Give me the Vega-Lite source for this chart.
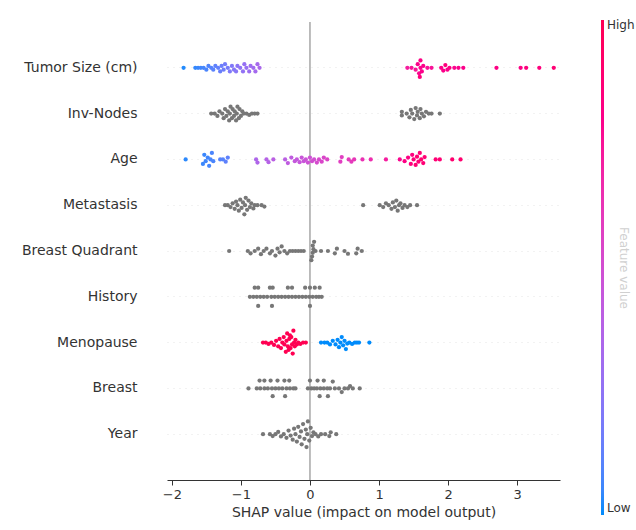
{
  "$schema": "https://vega.github.io/schema/vega-lite/v6.json",
  "width": 393,
  "height": 458,
  "autosize": "none",
  "padding": {"left": 167, "top": 22, "right": 76, "bottom": 50},
  "config": {"view": {"stroke": null}, "font": "DejaVu Sans"},
  "datasets": {
    "pts": [
      {"feature": "Tumor Size (cm)", "shap": -1.83, "jitter": 0, "value": 0.02},
      {"feature": "Tumor Size (cm)", "shap": -1.66, "jitter": 0, "value": 0.04},
      {"feature": "Tumor Size (cm)", "shap": -1.62, "jitter": 0, "value": 0.05},
      {"feature": "Tumor Size (cm)", "shap": -1.58, "jitter": 0, "value": 0.06},
      {"feature": "Tumor Size (cm)", "shap": -1.54, "jitter": 0, "value": 0.07},
      {"feature": "Tumor Size (cm)", "shap": -1.5, "jitter": 0.04, "value": 0.08},
      {"feature": "Tumor Size (cm)", "shap": -1.47, "jitter": -0.04, "value": 0.09},
      {"feature": "Tumor Size (cm)", "shap": -1.43, "jitter": 0, "value": 0.1},
      {"feature": "Tumor Size (cm)", "shap": -1.4, "jitter": 0.04, "value": 0.11},
      {"feature": "Tumor Size (cm)", "shap": -1.37, "jitter": -0.04, "value": 0.12},
      {"feature": "Tumor Size (cm)", "shap": -1.33, "jitter": 0, "value": 0.13},
      {"feature": "Tumor Size (cm)", "shap": -1.3, "jitter": 0.08, "value": 0.14},
      {"feature": "Tumor Size (cm)", "shap": -1.28, "jitter": -0.04, "value": 0.15},
      {"feature": "Tumor Size (cm)", "shap": -1.25, "jitter": 0.04, "value": 0.16},
      {"feature": "Tumor Size (cm)", "shap": -1.23, "jitter": -0.08, "value": 0.17},
      {"feature": "Tumor Size (cm)", "shap": -1.19, "jitter": 0, "value": 0.18},
      {"feature": "Tumor Size (cm)", "shap": -1.16, "jitter": 0.08, "value": 0.2},
      {"feature": "Tumor Size (cm)", "shap": -1.13, "jitter": -0.04, "value": 0.21},
      {"feature": "Tumor Size (cm)", "shap": -1.1, "jitter": 0.04, "value": 0.22},
      {"feature": "Tumor Size (cm)", "shap": -1.07, "jitter": 0.08, "value": 0.23},
      {"feature": "Tumor Size (cm)", "shap": -1.05, "jitter": -0.04, "value": 0.24},
      {"feature": "Tumor Size (cm)", "shap": -1.01, "jitter": 0, "value": 0.25},
      {"feature": "Tumor Size (cm)", "shap": -0.97, "jitter": 0.08, "value": 0.26},
      {"feature": "Tumor Size (cm)", "shap": -0.95, "jitter": -0.08, "value": 0.27},
      {"feature": "Tumor Size (cm)", "shap": -0.92, "jitter": 0, "value": 0.28},
      {"feature": "Tumor Size (cm)", "shap": -0.88, "jitter": 0.08, "value": 0.29},
      {"feature": "Tumor Size (cm)", "shap": -0.86, "jitter": -0.04, "value": 0.3},
      {"feature": "Tumor Size (cm)", "shap": -0.82, "jitter": 0, "value": 0.31},
      {"feature": "Tumor Size (cm)", "shap": -0.79, "jitter": 0.08, "value": 0.32},
      {"feature": "Tumor Size (cm)", "shap": -0.76, "jitter": -0.08, "value": 0.33},
      {"feature": "Tumor Size (cm)", "shap": -0.73, "jitter": 0, "value": 0.34},
      {"feature": "Tumor Size (cm)", "shap": 1.41, "jitter": 0, "value": 0.72},
      {"feature": "Tumor Size (cm)", "shap": 1.47, "jitter": 0, "value": 0.75},
      {"feature": "Tumor Size (cm)", "shap": 1.53, "jitter": 0.04, "value": 0.75},
      {"feature": "Tumor Size (cm)", "shap": 1.56, "jitter": -0.08, "value": 0.8},
      {"feature": "Tumor Size (cm)", "shap": 1.58, "jitter": 0.12, "value": 0.78},
      {"feature": "Tumor Size (cm)", "shap": 1.59, "jitter": 0.2, "value": 0.85},
      {"feature": "Tumor Size (cm)", "shap": 1.6, "jitter": -0.16, "value": 0.82},
      {"feature": "Tumor Size (cm)", "shap": 1.6, "jitter": 0, "value": 0.78},
      {"feature": "Tumor Size (cm)", "shap": 1.62, "jitter": 0.08, "value": 0.8},
      {"feature": "Tumor Size (cm)", "shap": 1.64, "jitter": -0.04, "value": 0.8},
      {"feature": "Tumor Size (cm)", "shap": 1.7, "jitter": 0, "value": 0.75},
      {"feature": "Tumor Size (cm)", "shap": 1.76, "jitter": 0, "value": 0.75},
      {"feature": "Tumor Size (cm)", "shap": 1.9, "jitter": 0, "value": 0.8},
      {"feature": "Tumor Size (cm)", "shap": 1.93, "jitter": 0.06, "value": 0.8},
      {"feature": "Tumor Size (cm)", "shap": 1.96, "jitter": -0.06, "value": 0.85},
      {"feature": "Tumor Size (cm)", "shap": 1.99, "jitter": 0.04, "value": 0.8},
      {"feature": "Tumor Size (cm)", "shap": 2.02, "jitter": 0, "value": 0.82},
      {"feature": "Tumor Size (cm)", "shap": 2.09, "jitter": 0, "value": 0.78},
      {"feature": "Tumor Size (cm)", "shap": 2.15, "jitter": 0, "value": 0.8},
      {"feature": "Tumor Size (cm)", "shap": 2.22, "jitter": 0, "value": 0.8},
      {"feature": "Tumor Size (cm)", "shap": 2.7, "jitter": 0, "value": 0.82},
      {"feature": "Tumor Size (cm)", "shap": 3.05, "jitter": 0, "value": 0.82},
      {"feature": "Tumor Size (cm)", "shap": 3.13, "jitter": 0, "value": 0.85},
      {"feature": "Tumor Size (cm)", "shap": 3.32, "jitter": 0, "value": 0.85},
      {"feature": "Tumor Size (cm)", "shap": 3.53, "jitter": 0, "value": 0.88},

      {"feature": "Inv-Nodes", "shap": -1.43, "jitter": 0, "value": null},
      {"feature": "Inv-Nodes", "shap": -1.38, "jitter": 0, "value": null},
      {"feature": "Inv-Nodes", "shap": -1.34, "jitter": 0.05, "value": null},
      {"feature": "Inv-Nodes", "shap": -1.31, "jitter": -0.05, "value": null},
      {"feature": "Inv-Nodes", "shap": -1.27, "jitter": 0, "value": null},
      {"feature": "Inv-Nodes", "shap": -1.25, "jitter": 0.1, "value": null},
      {"feature": "Inv-Nodes", "shap": -1.23, "jitter": -0.1, "value": null},
      {"feature": "Inv-Nodes", "shap": -1.21, "jitter": 0.05, "value": null},
      {"feature": "Inv-Nodes", "shap": -1.19, "jitter": -0.05, "value": null},
      {"feature": "Inv-Nodes", "shap": -1.17, "jitter": 0.15, "value": null},
      {"feature": "Inv-Nodes", "shap": -1.16, "jitter": 0, "value": null},
      {"feature": "Inv-Nodes", "shap": -1.15, "jitter": -0.15, "value": null},
      {"feature": "Inv-Nodes", "shap": -1.13, "jitter": 0.1, "value": null},
      {"feature": "Inv-Nodes", "shap": -1.12, "jitter": -0.1, "value": null},
      {"feature": "Inv-Nodes", "shap": -1.1, "jitter": 0.05, "value": null},
      {"feature": "Inv-Nodes", "shap": -1.09, "jitter": -0.05, "value": null},
      {"feature": "Inv-Nodes", "shap": -1.07, "jitter": 0.15, "value": null},
      {"feature": "Inv-Nodes", "shap": -1.06, "jitter": 0, "value": null},
      {"feature": "Inv-Nodes", "shap": -1.05, "jitter": -0.15, "value": null},
      {"feature": "Inv-Nodes", "shap": -1.03, "jitter": 0.1, "value": null},
      {"feature": "Inv-Nodes", "shap": -1.02, "jitter": -0.1, "value": null},
      {"feature": "Inv-Nodes", "shap": -1.0, "jitter": 0.05, "value": null},
      {"feature": "Inv-Nodes", "shap": -0.98, "jitter": -0.05, "value": null},
      {"feature": "Inv-Nodes", "shap": -0.96, "jitter": 0, "value": null},
      {"feature": "Inv-Nodes", "shap": -0.92, "jitter": 0, "value": null},
      {"feature": "Inv-Nodes", "shap": -0.88, "jitter": 0.03, "value": null},
      {"feature": "Inv-Nodes", "shap": -0.84, "jitter": 0, "value": null},
      {"feature": "Inv-Nodes", "shap": -0.8, "jitter": 0, "value": null},
      {"feature": "Inv-Nodes", "shap": -0.76, "jitter": 0, "value": null},
      {"feature": "Inv-Nodes", "shap": 1.33, "jitter": 0.04, "value": null},
      {"feature": "Inv-Nodes", "shap": 1.33, "jitter": -0.04, "value": null},
      {"feature": "Inv-Nodes", "shap": 1.4, "jitter": 0, "value": null},
      {"feature": "Inv-Nodes", "shap": 1.44, "jitter": 0.08, "value": null},
      {"feature": "Inv-Nodes", "shap": 1.46, "jitter": -0.08, "value": null},
      {"feature": "Inv-Nodes", "shap": 1.48, "jitter": 0, "value": null},
      {"feature": "Inv-Nodes", "shap": 1.51, "jitter": 0.12, "value": null},
      {"feature": "Inv-Nodes", "shap": 1.53, "jitter": -0.12, "value": null},
      {"feature": "Inv-Nodes", "shap": 1.55, "jitter": 0.04, "value": null},
      {"feature": "Inv-Nodes", "shap": 1.56, "jitter": -0.04, "value": null},
      {"feature": "Inv-Nodes", "shap": 1.59, "jitter": 0.1, "value": null},
      {"feature": "Inv-Nodes", "shap": 1.6, "jitter": -0.1, "value": null},
      {"feature": "Inv-Nodes", "shap": 1.62, "jitter": 0, "value": null},
      {"feature": "Inv-Nodes", "shap": 1.65, "jitter": 0.06, "value": null},
      {"feature": "Inv-Nodes", "shap": 1.68, "jitter": -0.04, "value": null},
      {"feature": "Inv-Nodes", "shap": 1.72, "jitter": 0, "value": null},
      {"feature": "Inv-Nodes", "shap": 1.76, "jitter": 0, "value": null},
      {"feature": "Inv-Nodes", "shap": 1.88, "jitter": 0, "value": null},

      {"feature": "Age", "shap": -1.8, "jitter": 0, "value": 0.03},
      {"feature": "Age", "shap": -1.55, "jitter": 0.1, "value": 0.05},
      {"feature": "Age", "shap": -1.53, "jitter": -0.1, "value": 0.05},
      {"feature": "Age", "shap": -1.51, "jitter": 0.04, "value": 0.06},
      {"feature": "Age", "shap": -1.48, "jitter": -0.04, "value": 0.06},
      {"feature": "Age", "shap": -1.46, "jitter": 0.14, "value": 0.07},
      {"feature": "Age", "shap": -1.44, "jitter": 0, "value": 0.07},
      {"feature": "Age", "shap": -1.42, "jitter": -0.14, "value": 0.08},
      {"feature": "Age", "shap": -1.4, "jitter": 0.04, "value": 0.08},
      {"feature": "Age", "shap": -1.3, "jitter": 0, "value": 0.1},
      {"feature": "Age", "shap": -1.26, "jitter": 0, "value": 0.1},
      {"feature": "Age", "shap": -1.22, "jitter": 0.05, "value": 0.12},
      {"feature": "Age", "shap": -1.19, "jitter": -0.04, "value": 0.12},
      {"feature": "Age", "shap": -0.78, "jitter": 0, "value": 0.35},
      {"feature": "Age", "shap": -0.76, "jitter": 0.07, "value": 0.36},
      {"feature": "Age", "shap": -0.63, "jitter": 0, "value": 0.38},
      {"feature": "Age", "shap": -0.6, "jitter": 0.06, "value": 0.38},
      {"feature": "Age", "shap": -0.53, "jitter": 0, "value": 0.4},
      {"feature": "Age", "shap": -0.36, "jitter": 0, "value": 0.4},
      {"feature": "Age", "shap": -0.32, "jitter": 0.08, "value": 0.42},
      {"feature": "Age", "shap": -0.27, "jitter": -0.04, "value": 0.42},
      {"feature": "Age", "shap": -0.22, "jitter": 0.04, "value": 0.44},
      {"feature": "Age", "shap": -0.19, "jitter": 0, "value": 0.44},
      {"feature": "Age", "shap": -0.15, "jitter": 0.06, "value": 0.45},
      {"feature": "Age", "shap": -0.12, "jitter": -0.04, "value": 0.46},
      {"feature": "Age", "shap": -0.09, "jitter": 0.04, "value": 0.46},
      {"feature": "Age", "shap": -0.06, "jitter": 0, "value": 0.47},
      {"feature": "Age", "shap": -0.03, "jitter": 0.07, "value": 0.48},
      {"feature": "Age", "shap": 0.0, "jitter": -0.04, "value": 0.48},
      {"feature": "Age", "shap": 0.03, "jitter": 0.04, "value": 0.5},
      {"feature": "Age", "shap": 0.06, "jitter": 0, "value": 0.5},
      {"feature": "Age", "shap": 0.1, "jitter": 0.07, "value": 0.52},
      {"feature": "Age", "shap": 0.13, "jitter": 0, "value": 0.52},
      {"feature": "Age", "shap": 0.17, "jitter": 0.05, "value": 0.54},
      {"feature": "Age", "shap": 0.2, "jitter": -0.04, "value": 0.54},
      {"feature": "Age", "shap": 0.25, "jitter": 0, "value": 0.55},
      {"feature": "Age", "shap": 0.44, "jitter": 0.05, "value": 0.58},
      {"feature": "Age", "shap": 0.46, "jitter": -0.05, "value": 0.58},
      {"feature": "Age", "shap": 0.56, "jitter": 0, "value": 0.6},
      {"feature": "Age", "shap": 0.6, "jitter": 0.05, "value": 0.6},
      {"feature": "Age", "shap": 0.64, "jitter": 0, "value": 0.62},
      {"feature": "Age", "shap": 0.76, "jitter": 0, "value": 0.64},
      {"feature": "Age", "shap": 0.88, "jitter": 0, "value": 0.66},
      {"feature": "Age", "shap": 1.1, "jitter": 0, "value": 0.72},
      {"feature": "Age", "shap": 1.3, "jitter": 0, "value": 0.78},
      {"feature": "Age", "shap": 1.37, "jitter": 0.04, "value": 0.82},
      {"feature": "Age", "shap": 1.42, "jitter": -0.04, "value": 0.82},
      {"feature": "Age", "shap": 1.46, "jitter": 0.1, "value": 0.85},
      {"feature": "Age", "shap": 1.48, "jitter": -0.1, "value": 0.84},
      {"feature": "Age", "shap": 1.5, "jitter": 0, "value": 0.86},
      {"feature": "Age", "shap": 1.53, "jitter": 0.12, "value": 0.88},
      {"feature": "Age", "shap": 1.55, "jitter": -0.06, "value": 0.88},
      {"feature": "Age", "shap": 1.57, "jitter": 0.05, "value": 0.86},
      {"feature": "Age", "shap": 1.59, "jitter": -0.14, "value": 0.88},
      {"feature": "Age", "shap": 1.61, "jitter": 0, "value": 0.9},
      {"feature": "Age", "shap": 1.64, "jitter": 0.08, "value": 0.88},
      {"feature": "Age", "shap": 1.66, "jitter": -0.05, "value": 0.88},
      {"feature": "Age", "shap": 1.82, "jitter": 0, "value": 0.88},
      {"feature": "Age", "shap": 1.88, "jitter": 0, "value": 0.88},
      {"feature": "Age", "shap": 2.06, "jitter": 0, "value": 0.9},
      {"feature": "Age", "shap": 2.18, "jitter": 0, "value": 0.9},

      {"feature": "Metastasis", "shap": -1.23, "jitter": 0, "value": null},
      {"feature": "Metastasis", "shap": -1.19, "jitter": 0, "value": null},
      {"feature": "Metastasis", "shap": -1.15, "jitter": 0.04, "value": null},
      {"feature": "Metastasis", "shap": -1.12, "jitter": -0.04, "value": null},
      {"feature": "Metastasis", "shap": -1.09, "jitter": 0.08, "value": null},
      {"feature": "Metastasis", "shap": -1.07, "jitter": -0.08, "value": null},
      {"feature": "Metastasis", "shap": -1.05, "jitter": 0, "value": null},
      {"feature": "Metastasis", "shap": -1.03, "jitter": 0.12, "value": null},
      {"feature": "Metastasis", "shap": -1.01, "jitter": -0.12, "value": null},
      {"feature": "Metastasis", "shap": -0.99, "jitter": 0.06, "value": null},
      {"feature": "Metastasis", "shap": -0.97, "jitter": -0.06, "value": null},
      {"feature": "Metastasis", "shap": -0.95, "jitter": 0.2, "value": null},
      {"feature": "Metastasis", "shap": -0.94, "jitter": 0, "value": null},
      {"feature": "Metastasis", "shap": -0.93, "jitter": -0.16, "value": null},
      {"feature": "Metastasis", "shap": -0.91, "jitter": 0.1, "value": null},
      {"feature": "Metastasis", "shap": -0.89, "jitter": -0.1, "value": null},
      {"feature": "Metastasis", "shap": -0.87, "jitter": 0.04, "value": null},
      {"feature": "Metastasis", "shap": -0.85, "jitter": -0.04, "value": null},
      {"feature": "Metastasis", "shap": -0.82, "jitter": 0.07, "value": null},
      {"feature": "Metastasis", "shap": -0.8, "jitter": 0, "value": null},
      {"feature": "Metastasis", "shap": -0.76, "jitter": 0, "value": null},
      {"feature": "Metastasis", "shap": -0.7, "jitter": 0, "value": null},
      {"feature": "Metastasis", "shap": -0.66, "jitter": 0.03, "value": null},
      {"feature": "Metastasis", "shap": 0.77, "jitter": 0, "value": null},
      {"feature": "Metastasis", "shap": 1.01, "jitter": 0, "value": null},
      {"feature": "Metastasis", "shap": 1.06, "jitter": 0.04, "value": null},
      {"feature": "Metastasis", "shap": 1.1, "jitter": -0.04, "value": null},
      {"feature": "Metastasis", "shap": 1.14, "jitter": 0, "value": null},
      {"feature": "Metastasis", "shap": 1.18, "jitter": 0.08, "value": null},
      {"feature": "Metastasis", "shap": 1.2, "jitter": -0.06, "value": null},
      {"feature": "Metastasis", "shap": 1.23, "jitter": 0.04, "value": null},
      {"feature": "Metastasis", "shap": 1.25, "jitter": -0.1, "value": null},
      {"feature": "Metastasis", "shap": 1.27, "jitter": 0.12, "value": null},
      {"feature": "Metastasis", "shap": 1.29, "jitter": 0, "value": null},
      {"feature": "Metastasis", "shap": 1.31, "jitter": -0.04, "value": null},
      {"feature": "Metastasis", "shap": 1.34, "jitter": 0.06, "value": null},
      {"feature": "Metastasis", "shap": 1.37, "jitter": 0, "value": null},
      {"feature": "Metastasis", "shap": 1.41, "jitter": 0.04, "value": null},
      {"feature": "Metastasis", "shap": 1.45, "jitter": 0, "value": null},
      {"feature": "Metastasis", "shap": 1.55, "jitter": 0, "value": null},

      {"feature": "Breast Quadrant", "shap": -1.17, "jitter": 0, "value": null},
      {"feature": "Breast Quadrant", "shap": -0.9, "jitter": 0, "value": null},
      {"feature": "Breast Quadrant", "shap": -0.86, "jitter": 0.05, "value": null},
      {"feature": "Breast Quadrant", "shap": -0.8, "jitter": 0, "value": null},
      {"feature": "Breast Quadrant", "shap": -0.75, "jitter": -0.05, "value": null},
      {"feature": "Breast Quadrant", "shap": -0.71, "jitter": 0.07, "value": null},
      {"feature": "Breast Quadrant", "shap": -0.67, "jitter": 0, "value": null},
      {"feature": "Breast Quadrant", "shap": -0.63, "jitter": -0.05, "value": null},
      {"feature": "Breast Quadrant", "shap": -0.58, "jitter": 0.05, "value": null},
      {"feature": "Breast Quadrant", "shap": -0.55, "jitter": 0, "value": null},
      {"feature": "Breast Quadrant", "shap": -0.5, "jitter": 0.1, "value": null},
      {"feature": "Breast Quadrant", "shap": -0.47, "jitter": -0.05, "value": null},
      {"feature": "Breast Quadrant", "shap": -0.44, "jitter": 0.03, "value": null},
      {"feature": "Breast Quadrant", "shap": -0.41, "jitter": -0.1, "value": null},
      {"feature": "Breast Quadrant", "shap": -0.37, "jitter": 0, "value": null},
      {"feature": "Breast Quadrant", "shap": -0.33, "jitter": 0.05, "value": null},
      {"feature": "Breast Quadrant", "shap": -0.29, "jitter": 0, "value": null},
      {"feature": "Breast Quadrant", "shap": -0.25, "jitter": 0, "value": null},
      {"feature": "Breast Quadrant", "shap": -0.21, "jitter": 0, "value": null},
      {"feature": "Breast Quadrant", "shap": -0.17, "jitter": 0, "value": null},
      {"feature": "Breast Quadrant", "shap": -0.13, "jitter": 0, "value": null},
      {"feature": "Breast Quadrant", "shap": -0.09, "jitter": 0, "value": null},
      {"feature": "Breast Quadrant", "shap": 0.02, "jitter": 0.2, "value": null},
      {"feature": "Breast Quadrant", "shap": 0.03, "jitter": 0.12, "value": null},
      {"feature": "Breast Quadrant", "shap": 0.04, "jitter": 0.04, "value": null},
      {"feature": "Breast Quadrant", "shap": 0.05, "jitter": -0.04, "value": null},
      {"feature": "Breast Quadrant", "shap": 0.04, "jitter": -0.12, "value": null},
      {"feature": "Breast Quadrant", "shap": 0.06, "jitter": -0.2, "value": null},
      {"feature": "Breast Quadrant", "shap": 0.08, "jitter": 0, "value": null},
      {"feature": "Breast Quadrant", "shap": 0.16, "jitter": 0, "value": null},
      {"feature": "Breast Quadrant", "shap": 0.26, "jitter": 0, "value": null},
      {"feature": "Breast Quadrant", "shap": 0.36, "jitter": 0.05, "value": null},
      {"feature": "Breast Quadrant", "shap": 0.39, "jitter": -0.05, "value": null},
      {"feature": "Breast Quadrant", "shap": 0.5, "jitter": 0, "value": null},
      {"feature": "Breast Quadrant", "shap": 0.55, "jitter": 0.06, "value": null},
      {"feature": "Breast Quadrant", "shap": 0.67, "jitter": 0.05, "value": null},
      {"feature": "Breast Quadrant", "shap": 0.69, "jitter": -0.05, "value": null},
      {"feature": "Breast Quadrant", "shap": 0.75, "jitter": 0, "value": null},

      {"feature": "History", "shap": -0.8, "jitter": -0.2, "value": null},
      {"feature": "History", "shap": -0.75, "jitter": -0.2, "value": null},
      {"feature": "History", "shap": -0.58, "jitter": -0.2, "value": null},
      {"feature": "History", "shap": -0.54, "jitter": -0.2, "value": null},
      {"feature": "History", "shap": -0.32, "jitter": -0.2, "value": null},
      {"feature": "History", "shap": -0.26, "jitter": -0.2, "value": null},
      {"feature": "History", "shap": -0.07, "jitter": -0.2, "value": null},
      {"feature": "History", "shap": 0.0, "jitter": -0.2, "value": null},
      {"feature": "History", "shap": 0.07, "jitter": -0.2, "value": null},
      {"feature": "History", "shap": 0.14, "jitter": -0.2, "value": null},
      {"feature": "History", "shap": -0.87, "jitter": 0, "value": null},
      {"feature": "History", "shap": -0.82, "jitter": 0, "value": null},
      {"feature": "History", "shap": -0.77, "jitter": 0, "value": null},
      {"feature": "History", "shap": -0.72, "jitter": 0, "value": null},
      {"feature": "History", "shap": -0.67, "jitter": 0, "value": null},
      {"feature": "History", "shap": -0.62, "jitter": 0, "value": null},
      {"feature": "History", "shap": -0.56, "jitter": 0, "value": null},
      {"feature": "History", "shap": -0.51, "jitter": 0, "value": null},
      {"feature": "History", "shap": -0.46, "jitter": 0, "value": null},
      {"feature": "History", "shap": -0.41, "jitter": 0, "value": null},
      {"feature": "History", "shap": -0.36, "jitter": 0, "value": null},
      {"feature": "History", "shap": -0.31, "jitter": 0, "value": null},
      {"feature": "History", "shap": -0.26, "jitter": 0, "value": null},
      {"feature": "History", "shap": -0.21, "jitter": 0, "value": null},
      {"feature": "History", "shap": -0.16, "jitter": 0, "value": null},
      {"feature": "History", "shap": -0.11, "jitter": 0, "value": null},
      {"feature": "History", "shap": -0.06, "jitter": 0, "value": null},
      {"feature": "History", "shap": -0.01, "jitter": 0, "value": null},
      {"feature": "History", "shap": 0.04, "jitter": 0, "value": null},
      {"feature": "History", "shap": 0.09, "jitter": 0, "value": null},
      {"feature": "History", "shap": 0.13, "jitter": 0, "value": null},
      {"feature": "History", "shap": 0.17, "jitter": 0, "value": null},
      {"feature": "History", "shap": -0.75, "jitter": 0.2, "value": null},
      {"feature": "History", "shap": -0.55, "jitter": 0.2, "value": null},
      {"feature": "History", "shap": 0.0, "jitter": 0.2, "value": null},

      {"feature": "Menopause", "shap": -0.68, "jitter": 0, "value": 1},
      {"feature": "Menopause", "shap": -0.64, "jitter": 0, "value": 1},
      {"feature": "Menopause", "shap": -0.6, "jitter": 0.03, "value": 1},
      {"feature": "Menopause", "shap": -0.56, "jitter": 0, "value": 1},
      {"feature": "Menopause", "shap": -0.52, "jitter": 0.05, "value": 1},
      {"feature": "Menopause", "shap": -0.49, "jitter": -0.04, "value": 1},
      {"feature": "Menopause", "shap": -0.46, "jitter": 0.08, "value": 1},
      {"feature": "Menopause", "shap": -0.44, "jitter": -0.08, "value": 1},
      {"feature": "Menopause", "shap": -0.42, "jitter": 0.12, "value": 1},
      {"feature": "Menopause", "shap": -0.4, "jitter": 0, "value": 1},
      {"feature": "Menopause", "shap": -0.38, "jitter": -0.12, "value": 1},
      {"feature": "Menopause", "shap": -0.37, "jitter": 0.04, "value": 1},
      {"feature": "Menopause", "shap": -0.35, "jitter": 0.2, "value": 1},
      {"feature": "Menopause", "shap": -0.34, "jitter": -0.04, "value": 1},
      {"feature": "Menopause", "shap": -0.33, "jitter": -0.2, "value": 1},
      {"feature": "Menopause", "shap": -0.32, "jitter": 0.08, "value": 1},
      {"feature": "Menopause", "shap": -0.31, "jitter": 0.16, "value": 1},
      {"feature": "Menopause", "shap": -0.3, "jitter": -0.08, "value": 1},
      {"feature": "Menopause", "shap": -0.29, "jitter": -0.16, "value": 1},
      {"feature": "Menopause", "shap": -0.28, "jitter": 0.12, "value": 1},
      {"feature": "Menopause", "shap": -0.27, "jitter": -0.12, "value": 1},
      {"feature": "Menopause", "shap": -0.26, "jitter": 0.04, "value": 1},
      {"feature": "Menopause", "shap": -0.25, "jitter": 0.24, "value": 1},
      {"feature": "Menopause", "shap": -0.24, "jitter": -0.26, "value": 1},
      {"feature": "Menopause", "shap": -0.23, "jitter": 0, "value": 1},
      {"feature": "Menopause", "shap": -0.22, "jitter": 0.08, "value": 1},
      {"feature": "Menopause", "shap": -0.21, "jitter": -0.06, "value": 1},
      {"feature": "Menopause", "shap": -0.19, "jitter": 0.04, "value": 1},
      {"feature": "Menopause", "shap": -0.17, "jitter": 0, "value": 1},
      {"feature": "Menopause", "shap": -0.14, "jitter": 0.03, "value": 1},
      {"feature": "Menopause", "shap": -0.1, "jitter": 0, "value": 1},
      {"feature": "Menopause", "shap": -0.06, "jitter": 0, "value": 1},
      {"feature": "Menopause", "shap": 0.16, "jitter": 0, "value": 0},
      {"feature": "Menopause", "shap": 0.21, "jitter": 0, "value": 0},
      {"feature": "Menopause", "shap": 0.25, "jitter": 0, "value": 0},
      {"feature": "Menopause", "shap": 0.29, "jitter": 0.04, "value": 0},
      {"feature": "Menopause", "shap": 0.33, "jitter": -0.04, "value": 0},
      {"feature": "Menopause", "shap": 0.37, "jitter": 0.04, "value": 0},
      {"feature": "Menopause", "shap": 0.4, "jitter": -0.06, "value": 0},
      {"feature": "Menopause", "shap": 0.42, "jitter": 0.1, "value": 0},
      {"feature": "Menopause", "shap": 0.44, "jitter": 0, "value": 0},
      {"feature": "Menopause", "shap": 0.46, "jitter": -0.12, "value": 0},
      {"feature": "Menopause", "shap": 0.48, "jitter": 0.06, "value": 0},
      {"feature": "Menopause", "shap": 0.5, "jitter": -0.04, "value": 0},
      {"feature": "Menopause", "shap": 0.52, "jitter": 0.14, "value": 0},
      {"feature": "Menopause", "shap": 0.54, "jitter": 0.02, "value": 0},
      {"feature": "Menopause", "shap": 0.57, "jitter": 0, "value": 0},
      {"feature": "Menopause", "shap": 0.61, "jitter": 0.03, "value": 0},
      {"feature": "Menopause", "shap": 0.65, "jitter": 0, "value": 0},
      {"feature": "Menopause", "shap": 0.68, "jitter": 0, "value": 0},
      {"feature": "Menopause", "shap": 0.71, "jitter": 0, "value": 0},
      {"feature": "Menopause", "shap": 0.86, "jitter": 0, "value": 0},

      {"feature": "Breast", "shap": -0.89, "jitter": 0, "value": null},
      {"feature": "Breast", "shap": -0.77, "jitter": 0, "value": null},
      {"feature": "Breast", "shap": -0.73, "jitter": -0.17, "value": null},
      {"feature": "Breast", "shap": -0.72, "jitter": 0, "value": null},
      {"feature": "Breast", "shap": -0.66, "jitter": -0.17, "value": null},
      {"feature": "Breast", "shap": -0.66, "jitter": 0, "value": null},
      {"feature": "Breast", "shap": -0.61, "jitter": 0, "value": null},
      {"feature": "Breast", "shap": -0.57, "jitter": -0.17, "value": null},
      {"feature": "Breast", "shap": -0.54, "jitter": 0.17, "value": null},
      {"feature": "Breast", "shap": -0.55, "jitter": 0, "value": null},
      {"feature": "Breast", "shap": -0.5, "jitter": 0, "value": null},
      {"feature": "Breast", "shap": -0.47, "jitter": -0.17, "value": null},
      {"feature": "Breast", "shap": -0.45, "jitter": 0, "value": null},
      {"feature": "Breast", "shap": -0.4, "jitter": 0, "value": null},
      {"feature": "Breast", "shap": -0.37, "jitter": -0.17, "value": null},
      {"feature": "Breast", "shap": -0.36, "jitter": 0.17, "value": null},
      {"feature": "Breast", "shap": -0.34, "jitter": 0, "value": null},
      {"feature": "Breast", "shap": -0.3, "jitter": -0.17, "value": null},
      {"feature": "Breast", "shap": -0.29, "jitter": 0, "value": null},
      {"feature": "Breast", "shap": -0.24, "jitter": 0, "value": null},
      {"feature": "Breast", "shap": -0.21, "jitter": 0, "value": null},
      {"feature": "Breast", "shap": -0.03, "jitter": 0, "value": null},
      {"feature": "Breast", "shap": 0.0, "jitter": -0.17, "value": null},
      {"feature": "Breast", "shap": 0.02, "jitter": 0, "value": null},
      {"feature": "Breast", "shap": 0.06, "jitter": 0, "value": null},
      {"feature": "Breast", "shap": 0.11, "jitter": -0.17, "value": null},
      {"feature": "Breast", "shap": 0.1, "jitter": 0, "value": null},
      {"feature": "Breast", "shap": 0.14, "jitter": 0.17, "value": null},
      {"feature": "Breast", "shap": 0.15, "jitter": 0, "value": null},
      {"feature": "Breast", "shap": 0.2, "jitter": -0.17, "value": null},
      {"feature": "Breast", "shap": 0.2, "jitter": 0, "value": null},
      {"feature": "Breast", "shap": 0.26, "jitter": 0.17, "value": null},
      {"feature": "Breast", "shap": 0.25, "jitter": 0, "value": null},
      {"feature": "Breast", "shap": 0.29, "jitter": 0, "value": null},
      {"feature": "Breast", "shap": 0.33, "jitter": -0.15, "value": null},
      {"feature": "Breast", "shap": 0.36, "jitter": 0, "value": null},
      {"feature": "Breast", "shap": 0.42, "jitter": 0, "value": null},
      {"feature": "Breast", "shap": 0.46, "jitter": 0.08, "value": null},
      {"feature": "Breast", "shap": 0.5, "jitter": 0, "value": null},
      {"feature": "Breast", "shap": 0.55, "jitter": 0, "value": null},
      {"feature": "Breast", "shap": 0.58, "jitter": -0.05, "value": null},
      {"feature": "Breast", "shap": 0.62, "jitter": 0, "value": null},
      {"feature": "Breast", "shap": 0.72, "jitter": 0, "value": null},

      {"feature": "Year", "shap": -0.68, "jitter": 0, "value": null},
      {"feature": "Year", "shap": -0.58, "jitter": 0, "value": null},
      {"feature": "Year", "shap": -0.54, "jitter": 0.04, "value": null},
      {"feature": "Year", "shap": -0.5, "jitter": 0, "value": null},
      {"feature": "Year", "shap": -0.46, "jitter": -0.05, "value": null},
      {"feature": "Year", "shap": -0.42, "jitter": 0.05, "value": null},
      {"feature": "Year", "shap": -0.38, "jitter": 0, "value": null},
      {"feature": "Year", "shap": -0.34, "jitter": 0.08, "value": null},
      {"feature": "Year", "shap": -0.31, "jitter": -0.08, "value": null},
      {"feature": "Year", "shap": -0.28, "jitter": 0.03, "value": null},
      {"feature": "Year", "shap": -0.25, "jitter": 0.12, "value": null},
      {"feature": "Year", "shap": -0.23, "jitter": -0.12, "value": null},
      {"feature": "Year", "shap": -0.21, "jitter": 0, "value": null},
      {"feature": "Year", "shap": -0.19, "jitter": 0.16, "value": null},
      {"feature": "Year", "shap": -0.17, "jitter": -0.16, "value": null},
      {"feature": "Year", "shap": -0.15, "jitter": 0.06, "value": null},
      {"feature": "Year", "shap": -0.13, "jitter": -0.06, "value": null},
      {"feature": "Year", "shap": -0.12, "jitter": 0.22, "value": null},
      {"feature": "Year", "shap": -0.1, "jitter": -0.22, "value": null},
      {"feature": "Year", "shap": -0.08, "jitter": 0.1, "value": null},
      {"feature": "Year", "shap": -0.06, "jitter": -0.1, "value": null},
      {"feature": "Year", "shap": -0.05, "jitter": 0.28, "value": null},
      {"feature": "Year", "shap": -0.04, "jitter": 0, "value": null},
      {"feature": "Year", "shap": -0.03, "jitter": -0.28, "value": null},
      {"feature": "Year", "shap": -0.01, "jitter": 0.14, "value": null},
      {"feature": "Year", "shap": 0.01, "jitter": -0.14, "value": null},
      {"feature": "Year", "shap": 0.03, "jitter": 0.04, "value": null},
      {"feature": "Year", "shap": 0.05, "jitter": -0.04, "value": null},
      {"feature": "Year", "shap": 0.08, "jitter": 0, "value": null},
      {"feature": "Year", "shap": 0.12, "jitter": 0.05, "value": null},
      {"feature": "Year", "shap": 0.16, "jitter": 0, "value": null},
      {"feature": "Year", "shap": 0.22, "jitter": 0, "value": null},
      {"feature": "Year", "shap": 0.28, "jitter": 0.04, "value": null},
      {"feature": "Year", "shap": 0.3, "jitter": -0.04, "value": null},
      {"feature": "Year", "shap": 0.38, "jitter": 0, "value": null}
    ]
  },
  "data": {"name": "pts"},
  "layer": [
    {
      "data": {"values": [{"zero": 0}]},
      "mark": {"type": "rule", "color": "#999999", "strokeWidth": 1.3},
      "encoding": {
        "x": {"field": "zero", "type": "quantitative"}
      }
    },
    {
      "transform": [{"filter": "datum.value == null"}],
      "mark": {"type": "circle", "size": 18, "opacity": 1, "color": "#777777"},
      "encoding": {
        "x": {"field": "shap", "type": "quantitative"},
        "y": {
          "field": "feature", "type": "nominal",
          "sort": ["Tumor Size (cm)", "Inv-Nodes", "Age", "Metastasis", "Breast Quadrant", "History", "Menopause", "Breast", "Year"]
        },
        "yOffset": {"field": "jitter", "type": "quantitative"}
      }
    },
    {
      "transform": [{"filter": "datum.value != null"}],
      "mark": {"type": "circle", "size": 18, "opacity": 1},
      "encoding": {
        "x": {
          "field": "shap", "type": "quantitative",
          "scale": {"domain": [-2.07, 3.62], "nice": false, "zero": false},
          "axis": {
            "values": [-2, -1, 0, 1, 2, 3],
            "format": "d",
            "grid": false,
            "domainColor": "#333333",
            "tickColor": "#333333",
            "tickSize": 5,
            "labelFontSize": 13,
            "labelColor": "#333333",
            "labelPadding": 3,
            "title": "SHAP value (impact on model output)",
            "titleFontSize": 14,
            "titleFontWeight": "normal",
            "titleColor": "#333333",
            "titlePadding": 4
          }
        },
        "y": {
          "field": "feature", "type": "nominal",
          "sort": ["Tumor Size (cm)", "Inv-Nodes", "Age", "Metastasis", "Breast Quadrant", "History", "Menopause", "Breast", "Year"],
          "scale": {"paddingInner": 0, "paddingOuter": 0.5},
          "axis": {
            "title": null,
            "domain": false,
            "ticks": false,
            "grid": true,
            "bandPosition": 0.5,
            "gridColor": "#dddddd",
            "gridDash": [1, 5],
            "gridWidth": 0.8,
            "labelFontSize": 14,
            "labelColor": "#333333",
            "labelPadding": 30
          }
        },
        "yOffset": {
          "field": "jitter", "type": "quantitative",
          "scale": {"domain": [-0.5, 0.5]}
        },
        "color": {
          "field": "value", "type": "quantitative",
          "scale": {"domain": [0, 1], "range": ["#008bfb", "#ff0052"], "interpolate": "hcl"},
          "legend": {
            "orient": "none",
            "legendX": 434,
            "legendY": -2,
            "direction": "vertical",
            "gradientLength": 495,
            "gradientThickness": 3,
            "gradientStrokeWidth": 0,
            "values": [0, 1],
            "labelExpr": "datum.value == 1 ? 'High' : 'Low'",
            "labelFontSize": 12,
            "labelColor": "#333333",
            "labelOffset": 3,
            "labelBaseline": "middle",
            "padding": 0,
            "title": "Feature value",
            "titleOrient": "right",
            "titleAngle": 270,
            "titleFontSize": 12,
            "titleFontWeight": "normal",
            "titleColor": "#d0d0d0",
            "titleAnchor": "middle",
            "titleBaseline": "bottom",
            "titlePadding": -18
          }
        }
      }
    }
  ]
}
